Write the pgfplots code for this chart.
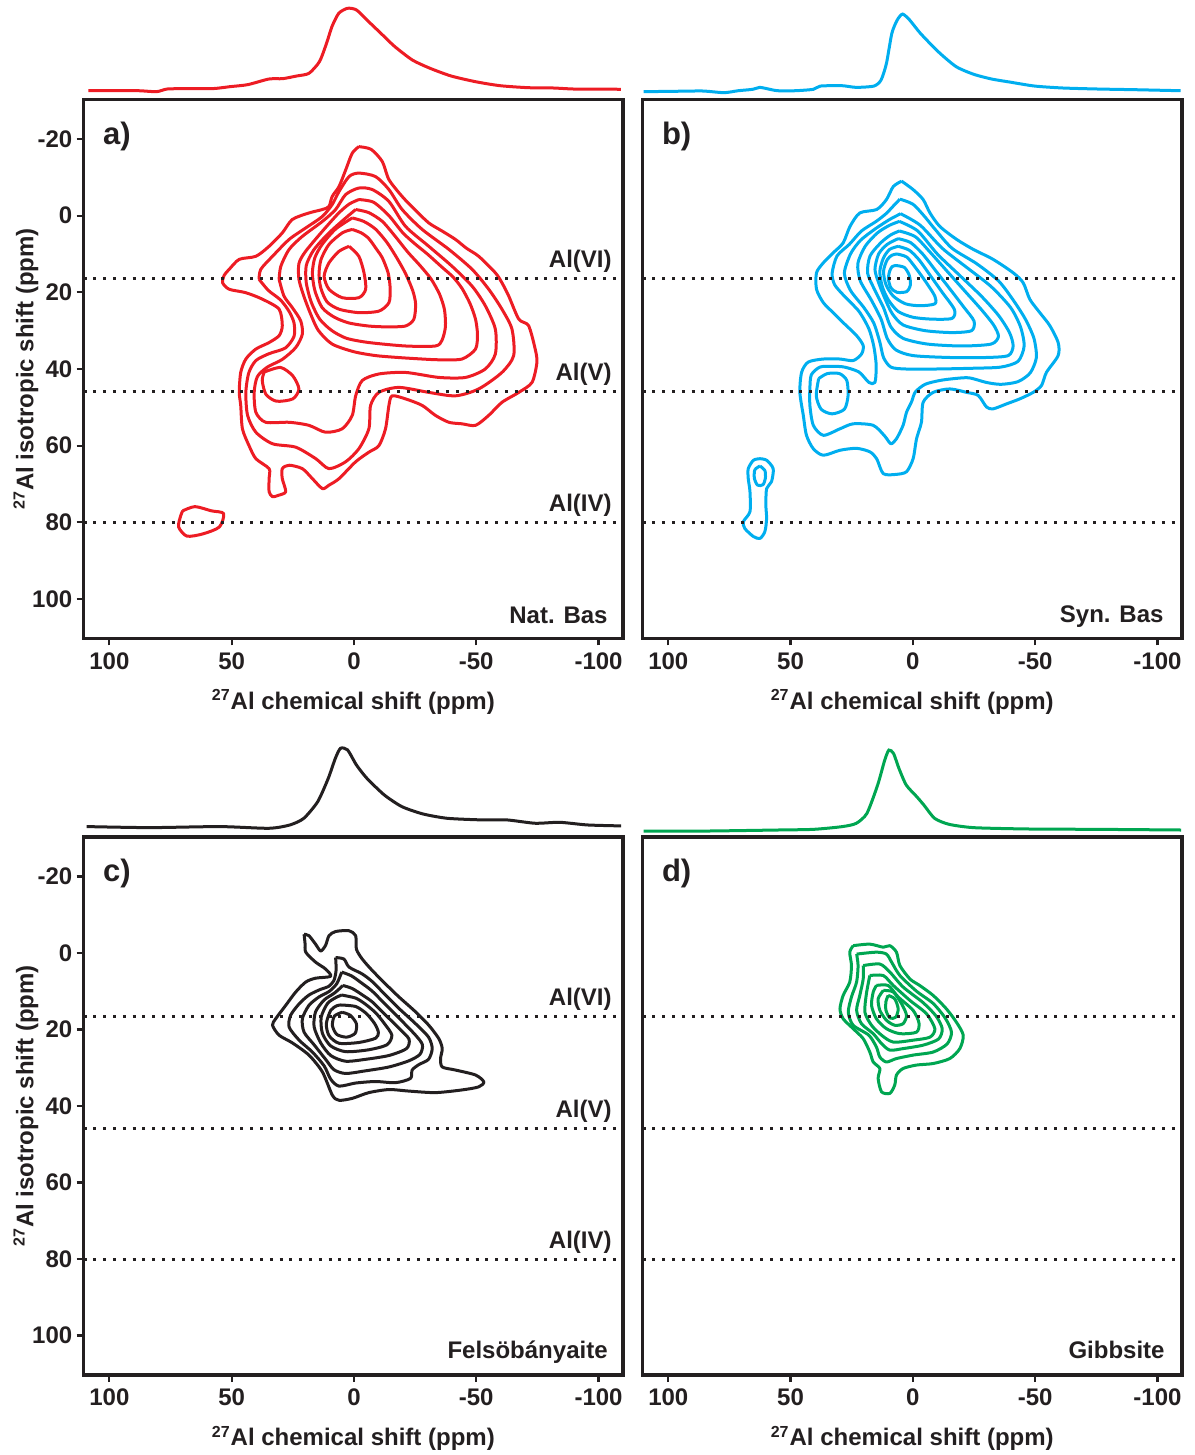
\documentclass[border=0pt]{standalone}
\usepackage{pgfplots}
\pgfplotsset{compat=1.18}
\usepackage{fontspec}
\setmainfont{Liberation Sans}
\definecolor{cred}{RGB}{237,28,36}
\definecolor{cblue}{RGB}{0,174,239}
\definecolor{cblack}{RGB}{35,31,32}
\definecolor{cgreen}{RGB}{0,166,81}
\definecolor{frame}{RGB}{35,31,32}
\tikzset{
  lab/.style={font=\bfseries\fontsize{12}{14}\selectfont, text=frame},
  plab/.style={anchor=north west, inner sep=0pt, font=\bfseries\fontsize{15.5}{15.5}\selectfont, text=frame},
}
\pgfplotsset{
  mainax/.style={
    scale only axis, anchor=south west,
    width=269.65pt,
    xmin=-110, xmax=110.5, x dir=reverse,
    ymin=-30.3, ymax=110.3, y dir=reverse,
    axis line style={line width=1.6pt, frame},
    tick style={line width=1.1pt, frame},
    major tick length=3.5pt,
    tick align=outside,
    xtick={100,50,0,-50,-100},
    xticklabels={100,50,0,-50,-100},
    xtick pos=bottom, ytick pos=left,
    ticklabel style={font=\bfseries\fontsize{12}{12}\selectfont, text=frame},
    yticklabel style={inner xsep=2pt},
    clip=true,
  },
  projax/.style={scale only axis, anchor=south west, width=269.65pt,
    xmin=-110, xmax=110.5, x dir=reverse, ymin=0, hide axis, clip=false},
  cont/.style={line width=1.5pt, smooth, tension=0.45, line join=round},
  dotl/.style={line width=1.5pt, dash pattern=on 1.5pt off 3.4pt, frame},
}
\begin{document}
\begin{tikzpicture}
\useasboundingbox (0,0) rectangle (597pt,727.5pt);

%================ PANEL A =================
\begin{axis}[projax, at={(41.85pt,681.65pt)}, height=41.7pt, ymax=87.7]
\addplot[cred, line width=1.5pt, smooth, tension=0.4] coordinates {
(108.6,1.0) (97.9,1.0) (87.9,1.0) (80.7,0) (76.4,2.8) (69.2,3.2) (57.8,3.2) (50.6,5.3) (43.4,7.4) (34.8,13.3) (29.1,13.7) (23.4,16.5) (18.4,19.3) (14.1,31.6) (11.2,50.9) (9.0,68.4) (6.2,82.5) (2.6,87.7) (-1,86) (-5.3,75.4) (-11,61.4) (-16.7,47.4) (-23.9,33.3) (-31.1,24.6) (-39.7,16.5) (-49.7,10.5) (-59.7,6.3) (-71.2,4.2) (-81.2,3.9) (-89.8,2.8) (-99.8,2.8) (-109.1,2.5)};
\end{axis}

\begin{axis}[mainax, name=A, at={(41.85pt,408.25pt)}, height=269.5pt,
  ytick={-20,0,20,40,60,80,100}, yticklabels={-20,0,20,40,60,80,100}]
% L1
\addplot[cont, cred] coordinates {(-2,-18) (-7,-17.3) (-11.6,-14.1) (-14.3,-9.4) (-19.7,-5) (-25,-1.5) (-30.6,1.9) (-36,4) (-41.5,6.2) (-46,8.5) (-51,10.6) (-57.8,14.9) (-60.5,17.5) (-63.3,21) (-67.4,27) (-71.4,28.7) (-74.1,34.8) (-74.8,38.3) (-72.8,43.5) (-67.4,46.1) (-60.5,48.7) (-55.1,52.1) (-49.7,54.7) (-44.2,54.3) (-38.8,53.9) (-33.3,52.1) (-27.9,49.5) (-21.1,47.8) (-15.6,47) (-14.3,49.5) (-12.9,55.6) (-10.2,60) (-6.1,61.7) (-0.7,64.2) (6.1,68.6) (10.2,70.3) (12.9,71.2) (17,68.6) (21.1,66) (26.5,65.1) (29.3,66) (29.3,68.6) (27.9,72) (30.6,72.9) (33.3,73.3) (34.7,72) (34.7,68.6) (34.7,66) (40.1,63.4) (42.9,60) (45.6,55.6) (46.3,49.5) (46.9,46.1) (46.3,40.9) (44.2,37.4) (40.1,34.8) (34.7,33.1) (30.6,31.3) (29.3,28.7) (30.6,24.4) (37.4,21.8) (44.2,20.1) (51,19.2) (53.7,17.5) (53,15.5) (51,14) (46.9,11.4) (40.1,10.6) (34.7,8) (29.3,4.5) (25.2,1) (18.4,-0.7) (12.9,-1.6) (10.2,-2.4) (8.9,-5) (6.1,-7.6) (3.4,-11.9) (0.7,-16.3) (-2,-18)};
% L2
\addplot[cont, cred] coordinates {(38.8,16.6) (35,19.5) (30,22) (26.5,25) (24.5,28) (24.5,31.5) (28,34.5) (34.7,36) (40.1,37.8) (43,41) (44.2,46.1) (43.5,52.1) (40.1,56.5) (33.3,59.5) (23.8,60.4) (15.6,63.4) (10.2,66) (3.4,64.2) (-2,60.8) (-6.1,55.6) (-6.8,49.5) (-10.2,46.1) (-18.4,44.8) (-30.6,46.1) (-41.5,47) (-51,45.2) (-60.5,40.9) (-65.3,36.5) (-64.6,29.6) (-60.5,24.4) (-55.1,19.2) (-48.3,14) (-38.8,8.8) (-27.9,3.6) (-19.7,-1.6) (-14.3,-6.8) (-8.8,-10.2) (-2,-11.1) (2,-10.2) (6.1,-6.3) (8.9,-2.9) (12.9,0.2) (19.7,3.2) (26.5,6.2) (33.3,10.6) (38.1,14) (38.8,16.6)};
% L3
\addplot[cont, cred] coordinates {(30.6,16.6) (28.6,21) (25.2,24) (21.8,27.4) (21.1,30.9) (23.8,34.4) (29.3,37.5) (35.4,39.5) (39.5,42) (40.8,46.1) (40.1,51.3) (36.1,53.9) (26.5,53.9) (18.4,54.7) (11.6,56.5) (4.8,55.6) (0.7,52.1) (-0.7,47) (-3.4,43) (-10.2,41.3) (-21.1,40.9) (-34.7,42.2) (-45.6,42.2) (-53.7,40) (-57.8,36.1) (-57.8,29.6) (-53.7,23.5) (-48.3,18.4) (-40.1,13.2) (-30.6,8) (-21.1,2.8) (-14.3,-3.7) (-7.5,-6.8) (-2,-7.2) (3.4,-5.5) (7.5,-1.6) (12.9,1.5) (21.1,5.4) (26.5,8.8) (29.9,13.2) (30.6,16.6)};
% L4
\addplot[cont, cred] coordinates {(-2,-4.2) (-8,-3.5) (-14.3,0) (-20,4.5) (-25.2,7.5) (-30,10) (-36.1,13.5) (-40.5,16) (-44.2,19) (-47.5,23) (-49.7,27) (-50.5,31) (-49.7,34.8) (-44.2,37.4) (-35,37.6) (-27.9,37.4) (-18,37) (-8.8,36.5) (0,35.5) (8.9,33.5) (14.5,30) (17.5,26) (20.5,21) (22.5,16.6) (22.5,12.5) (20,9.5) (13.5,4.5) (6.5,-0.5) (2,-3) (-2,-4.2)};
% L5
\addplot[cont, cred] coordinates {(-0.7,-1.6) (-6,-0.8) (-11.6,1.5) (-17,5.5) (-22,9.5) (-27,13) (-31.5,16.5) (-35,20.5) (-37,24.5) (-37.4,29) (-36,32.5) (-33.3,34) (-21.1,34) (-6.1,33.1) (3,32) (9,30) (14,27) (17.5,22.5) (19.5,17.5) (19.5,13) (16.5,9) (11,5) (5,1.5) (-0.7,-1.6)};
% L6
\addplot[cont, cred] coordinates {(0.7,0.6) (-4,1.5) (-8.8,3.5) (-13.5,7) (-17.5,11) (-21,15) (-24,19.5) (-25.2,23) (-24.5,27) (-21,28.8) (-13,29) (-6.1,28.8) (2,28) (8,26.5) (13,24) (16,19.5) (17,15) (16,11) (13,7.5) (7.5,3.5) (0.7,0.6)};
% L7
\addplot[cont, cred] coordinates {(0.7,3.6) (-3,4.5) (-6.1,6) (-9.5,9) (-11.6,11) (-14,15) (-14.8,19) (-14.3,22.7) (-10.2,24.9) (-2,25.3) (6.1,24.4) (11,22.5) (13.5,19) (14.3,15.5) (13.5,11.5) (10.2,7.5) (4.8,4.5) (0.7,3.6)};
% L8
\addplot[cont, cred] coordinates {(2,8) (-2,10.6) (-4.1,14.9) (-4.8,19.2) (-2,21.4) (4.8,21.4) (10.2,19.2) (12.2,15.8) (10.2,12.3) (6.1,9.3) (2,8)};
% island
\addplot[cont, cred] coordinates {(36.7,40.8) (30,39.6) (25,41.8) (22.5,45.2) (25,47.8) (31.7,48.4) (36,46.6) (37.5,43) (36.7,40.8)};
% Al(IV) spot
\addplot[cont, cred] coordinates {(70,77) (65,75.9) (58.3,77) (53.3,77.7) (55,81.2) (61.7,83) (68.3,83.6) (71.7,81.2) (70.8,78.2) (70,77)};
% dotted lines
\addplot[dotl] coordinates {(110.5,16.5) (-110,16.5)};
\addplot[dotl] coordinates {(110.5,46) (-110,46)};
\addplot[dotl] coordinates {(110.5,80) (-110,80)};
\node[lab, anchor=base east, inner sep=0pt, yshift=5.5pt] at (axis cs:-105.5,16.5) {Al(VI)};
\node[lab, anchor=base east, inner sep=0pt, yshift=5.5pt] at (axis cs:-105.5,46) {Al(V)};
\node[lab, anchor=base east, inner sep=0pt, yshift=5.5pt] at (axis cs:-105.5,80) {Al(IV)};
\end{axis}
\node[lab] at ([yshift=-31.75pt]A.south) {\textsuperscript{27}Al chemical shift (ppm)};
\node[lab, rotate=90] at ([xshift=-28.85pt]A.west) {\textsuperscript{27}Al isotropic shift (ppm)};
\node[plab] at ([xshift=9.5pt,yshift=-11pt]A.north west) {a)};
\node[lab, anchor=base east, inner sep=0pt] at ([xshift=-7.5pt,yshift=7.3pt]A.south east) {Nat. Bas};

%================ PANEL B =================
\begin{axis}[projax, at={(321.3pt,681.15pt)}, height=39.3pt, ymax=84.3]
\addplot[cblue, line width=1.5pt, smooth, tension=0.4] coordinates {
(110.1,1.1) (99.1,1.4) (86,1.8) (77.2,0) (71.4,2.1) (65.5,3.6) (62.6,5.7) (59.7,4.3) (55.3,2.1) (48,2.1) (40.7,3.6) (37.8,7.1) (29,7.5) (23.2,5.7) (15.9,7.1) (13,13.6) (10.8,31.4) (8.6,63.6) (6.4,77.9) (4.2,84.3) (1.3,77.9) (-3.1,63.6) (-10.4,43.9) (-17.7,27.9) (-25,19.6) (-32.3,14.6) (-39.6,11.4) (-49.8,7.1) (-61.5,5) (-76.1,3.9) (-90.7,3.2) (-109.5,2.1)};
\end{axis}

\begin{axis}[mainax, name=B, at={(321.3pt,408.25pt)}, height=269.5pt, ytick=\empty]
\addplot[cont, cblue] coordinates {(4.6,-9) (-0.1,-6.8) (-4.2,-4.2) (-7,-0.7) (-11,2.8) (-17.9,6.2) (-24.7,8.8) (-32.8,11.4) (-41,14.9) (-45.1,17.5) (-47.8,21.8) (-51.9,25.3) (-56,28.7) (-59.4,33.1) (-59.4,36.5) (-54.6,40.9) (-52.6,44.3) (-49.2,46.1) (-43.7,47.8) (-38.3,49.1) (-32.8,50.4) (-30.1,49.9) (-26.7,46.9) (-22,46.1) (-15.1,45.2) (-8.3,46.1) (-4.2,48.7) (-3.5,53.9) (-1.5,58.2) (-0.1,63.4) (2.6,66.8) (7,67.5) (12.1,67.3) (14.8,63.4) (17.6,61.6) (23,60.7) (29.8,61.2) (36.6,62.5) (40.7,60.8) (43.5,57.3) (44.8,52.1) (46.2,46.1) (45.5,40.9) (42.8,38.2) (36.6,37.4) (29.8,37.4) (24.4,37.8) (21,36.1) (20.3,33.9) (23,31.3) (28.5,27.9) (32.6,25.3) (36.6,22.7) (39.4,19.2) (39.4,14.9) (36.6,12.3) (32.6,9.7) (28.5,7.1) (25.7,2.8) (21.7,-0.7) (14.8,-1.6) (10.8,-4.2) (8,-7.6) (4.6,-9)};
\addplot[cont, cblue] coordinates {(5.3,-4.3) (0,-3) (-4.5,0) (-9,3.5) (-16,8.5) (-26,12.5) (-35,17) (-41,22) (-46,27) (-49.5,32) (-50.5,37) (-48,41) (-43,43.3) (-36,44) (-30,43.5) (-23,42.3) (-17,42.5) (-11,43) (-5,44) (-1,46) (0.5,48.5) (2.6,51.3) (4,54.7) (6.7,58.2) (9,59.5) (11.5,57.5) (16.2,54.7) (24.4,54.3) (29.8,55.6) (36.6,57.3) (40.7,54.7) (42.1,49.5) (42.1,45) (41.5,41.5) (38,39.5) (33,39.3) (28,39.5) (22,40.8) (18,43.5) (15.5,43.5) (15,39) (16,34) (18,29.5) (22,25) (28,21) (32,18) (33,15) (31,10.5) (26,7.5) (21,4) (15,1.5) (11,-0.5) (8,-2.5) (5.3,-4.3)};
\addplot[cont, cblue] coordinates {(5,-0.5) (-3,2.5) (-12,8.5) (-22,13.5) (-32,18.5) (-40,24) (-44,29) (-45.5,34) (-43,38) (-36,39.5) (-25,39.8) (-10,40) (3,40) (9,39.5) (12,37) (13.5,33) (16,28) (20,24) (25.5,19.5) (28,15) (25.5,10) (21.5,6.5) (15.5,3.5) (9.5,1) (5,-0.5)};
\addplot[cont, cblue] coordinates {(5.5,1.5) (-2,4) (-10,10) (-19,15.5) (-28,21) (-35,26) (-39.5,30.5) (-41,34) (-39,36.5) (-30,37) (-15,37) (0,36.5) (7,35) (10.5,32) (13,27) (17,22) (21.5,17) (22.5,12.5) (19.5,8) (14.5,4.5) (9.5,2.5) (5.5,1.5)};
\addplot[cont, cblue] coordinates {(5.5,4) (-1,5.5) (-7,9.5) (-14,14.5) (-21,19.5) (-28,24.5) (-33,28.5) (-35,31.5) (-32,33.5) (-20,34) (-6,33.5) (4,32) (9,29) (12,24) (15.5,19.5) (18.5,15) (17.5,10.5) (13,7) (9,5) (5.5,4)};
\addplot[cont, cblue] coordinates {(6,6) (1,7) (-4,10) (-9.5,14.5) (-15,19) (-21,24) (-25,27.5) (-24,30) (-16,30.5) (-5,30) (4,28.5) (8.5,25.5) (11.5,21.5) (14,17.5) (15.5,14) (14,10) (10.5,7.5) (6,6)};
\addplot[cont, cblue] coordinates {(6,8) (1.5,9) (-2.5,11.5) (-7,15.5) (-12,20) (-17,24.5) (-16,26.8) (-8,27) (0,26.5) (6,25) (10,22) (12.5,18.5) (13.5,14.5) (12,11) (9.5,8.8) (6,8)};
\addplot[cont, cblue] coordinates {(6.5,10) (2.5,10.8) (-1,13.5) (-5,17) (-9,21) (-9,23) (-3,23.5) (3,23) (8,21) (11,18) (12,14.5) (10.5,11.5) (8.5,10.3) (6.5,10)};
\addplot[cont, cblue] coordinates {(7,13) (3.5,13.5) (1.5,15.5) (1,18) (2.5,19.8) (6.5,20) (9,18.8) (10,16.5) (9.5,14.5) (8.5,13.3) (7,13)};
\addplot[cont, cblue] coordinates {(38.5,42.5) (35,41.2) (30,41.2) (27,43) (26.5,47) (28,50.5) (33,51.7) (37.5,50.5) (39.5,47) (38.5,42.5)};
\addplot[cont, cblue] coordinates {(62.5,63.4) (59.8,63.8) (57.1,66) (57.8,69.4) (59.8,71.2) (60.1,75.5) (59.8,79) (60.5,82.4) (62.5,84.2) (65.2,83.7) (68.7,81.6) (69.3,79.8) (66.6,77.2) (66.6,72) (67.3,68.6) (67.3,66) (65.2,63.8) (62.5,63.4)};
\addplot[cont, cblue] coordinates {(62.5,65.3) (60.5,66.5) (60.3,68.5) (61.3,70.2) (63.5,70.3) (64.8,68.5) (64.6,66.3) (62.5,65.3)};
\addplot[dotl] coordinates {(110.5,16.5) (-110,16.5)};
\addplot[dotl] coordinates {(110.5,46) (-110,46)};
\addplot[dotl] coordinates {(110.5,80) (-110,80)};
\end{axis}
\node[lab] at ([yshift=-31.75pt]B.south) {\textsuperscript{27}Al chemical shift (ppm)};
\node[plab] at ([xshift=9.5pt,yshift=-11pt]B.north west) {b)};
\node[lab, anchor=base east, inner sep=0pt] at ([xshift=-9pt,yshift=7.8pt]B.south east) {Syn. Bas};

%================ PANEL C =================
\begin{axis}[projax, at={(41.85pt,313.35pt)}, height=40pt, ymax=84.2]
\addplot[cblack, line width=1.5pt, smooth, tension=0.4] coordinates {
(109.3,1.8) (83.5,0.7) (54.9,1.8) (34.8,0) (26.2,3.5) (20.5,10.5) (14.8,28.1) (10.5,52.6) (7.6,73.7) (5.5,84.2) (2.6,82.5) (-1,66.7) (-5.3,52.6) (-12.4,35.1) (-19.6,22.8) (-28.2,15.1) (-38.2,10.5) (-52.6,8.8) (-62.6,8.8) (-74.1,5.3) (-84.1,6.3) (-95.5,3.5) (-109.2,2.5)};
\end{axis}

\begin{axis}[mainax, name=C, at={(41.85pt,40pt)}, height=269pt,
  ytick={-20,0,20,40,60,80,100}, yticklabels={-20,0,20,40,60,80,100}]
\addplot[cont, cblack] coordinates {(20.4,-4.9) (20,-2.5) (19.7,-0.2) (15.7,2.4) (11.6,4.2) (9.5,6.1) (15.7,6.6) (19.7,7.6) (23.8,10.2) (27.9,13.7) (32,17.2) (33.3,18.9) (30.6,21.5) (25.2,23.5) (18.4,26.7) (12.9,31.1) (8.8,37.2) (6.1,38.5) (0.7,38) (-6.1,36.5) (-14.3,35.7) (-22.4,36.1) (-33.3,36.5) (-44.2,35.8) (-51,35) (-53.1,33.7) (-49.7,31.9) (-41.5,30.6) (-36.1,29.8) (-35.4,27.6) (-36.1,25) (-34.7,22.4) (-30.6,18.9) (-25.2,15.4) (-18.4,11.5) (-12.9,8.1) (-7.5,4.6) (-3.4,1.6) (-1,-1) (-0.7,-4.5) (2,-5.8) (7.5,-5.6) (10.2,-4.5) (11.6,-2) (13.6,-0.5) (15.7,-2.3) (18.4,-4.5) (20.4,-4.9)};
\addplot[cont, cblack] coordinates {(7.5,1.2) (4.1,1.6) (2,3.7) (-3.4,5.5) (-7.5,7.5) (-12.9,11) (-18.4,14.5) (-25.2,18.5) (-30.5,22) (-32,25) (-30.5,27.8) (-26.5,29.2) (-23.8,30.6) (-23.1,32.8) (-17,33.9) (-8.8,33.6) (-0.7,34) (6.1,34.8) (9.5,33) (12.2,29.5) (17,25.9) (22.4,22.8) (26.5,19.4) (25.9,16.3) (22.4,13.3) (18.4,11) (13.6,9.5) (10.5,8.8) (8.2,7.2) (7.3,4.5) (7.5,1.2)};
\addplot[cont, cblack] coordinates {(5,5) (1,6) (-3,7.8) (-7.5,10) (-12.9,13.5) (-18.4,17) (-25.2,21.5) (-28,24) (-27,26.5) (-22.4,28.2) (-14.3,29.8) (-4.8,30.8) (3.4,31.5) (8.2,30.5) (11.6,27.8) (16.3,24) (20.4,20.7) (21.1,17.2) (18.4,13.7) (14.3,11.5) (10,10) (7,8) (5,5)};
\addplot[cont, cblack] coordinates {(4.5,8.5) (0.7,9.3) (-3.5,11) (-7.5,12.8) (-12.9,16.2) (-18.4,19.7) (-22.5,22.5) (-21.5,25) (-14.3,26.8) (-4.8,27.8) (3.4,28.3) (9.5,26.8) (13.6,23.5) (16.3,19.3) (15.7,15.4) (12.2,12.3) (8,10.5) (4.5,8.5)};
\addplot[cont, cblack] coordinates {(5,11) (-0.7,11.8) (-4.5,13.3) (-8.8,15.6) (-12.5,18.5) (-15.5,21.5) (-13.5,24) (-6.1,25.3) (3.4,25.8) (9.5,24.3) (12.9,21) (13.4,16.8) (10.8,13.2) (7.5,11.7) (5,11)};
\addplot[cont, cblack] coordinates {(5.4,13.6) (-0.7,14) (-5,15.8) (-8.5,18.5) (-10,20.8) (-8.8,22.3) (-2,23.4) (6.1,23.6) (10.2,21.6) (11.3,18.5) (9.5,15) (7,13.8) (5.4,13.6)};
\addplot[cont, cblack] coordinates {(4.8,15.5) (1.5,16.3) (-1,18.5) (-0.5,21) (3,22) (7,21.3) (8.8,19) (8,16.5) (4.8,15.5)};
\addplot[dotl] coordinates {(110.5,16.5) (-110,16.5)};
\addplot[dotl] coordinates {(110.5,46) (-110,46)};
\addplot[dotl] coordinates {(110.5,80) (-110,80)};
\node[lab, anchor=base east, inner sep=0pt, yshift=5.5pt] at (axis cs:-105.5,16.5) {Al(VI)};
\node[lab, anchor=base east, inner sep=0pt, yshift=5.5pt] at (axis cs:-105.5,46) {Al(V)};
\node[lab, anchor=base east, inner sep=0pt, yshift=5.5pt] at (axis cs:-105.5,80) {Al(IV)};
\end{axis}
\node[lab] at ([yshift=-31.75pt]C.south) {\textsuperscript{27}Al chemical shift (ppm)};
\node[lab, rotate=90] at ([xshift=-28.85pt]C.west) {\textsuperscript{27}Al isotropic shift (ppm)};
\node[plab] at ([xshift=9.5pt,yshift=-11pt]C.north west) {c)};
\node[lab, anchor=base east, inner sep=0pt] at ([xshift=-7.5pt,yshift=8pt]C.south east) {Felsöbányaite};

%================ PANEL D =================
\begin{axis}[projax, at={(321.3pt,311.65pt)}, height=40.8pt, ymax=87.5]
\addplot[cgreen, line width=1.5pt, smooth, tension=0.4] coordinates {
(110.1,0.7) (84.5,0.7) (55.3,1.8) (40.7,2.5) (29,5.4) (23.2,8.9) (18.8,19.6) (14.4,50) (11.5,76.8) (9.8,87.5) (7.9,83.9) (5.7,67.9) (2.7,50) (-1.6,37.5) (-4.5,28.6) (-8.9,14.3) (-14.8,7.9) (-25,4.3) (-46.9,2.9) (-76.1,2.5) (-109.7,1.8)};
\end{axis}

\begin{axis}[mainax, name=D, at={(321.3pt,40pt)}, height=269pt, ytick=\empty]
\addplot[cont, cgreen] coordinates {(24.4,-1.9) (17.6,-2.3) (12.1,-1.5) (9.4,-1.9) (6.7,-0.2) (5.3,3.3) (1.2,6.8) (-2.8,8.5) (-8.3,11.1) (-13.7,14.6) (-17.8,18.1) (-20.6,21.5) (-19.2,25) (-15.1,27.6) (-8.3,28.9) (-1.5,29.3) (4,30.2) (6.7,31.9) (7.4,34.5) (9.4,36.7) (12.8,36.3) (14.2,32.8) (13.5,30.2) (16.2,28.5) (17.6,25.9) (20.3,22.4) (24.4,19.8) (28.5,17.2) (29.8,14.6) (28.5,11.1) (25.8,7.6) (25.1,3.3) (25.8,-0.2) (24.4,-1.9)};
\addplot[cont, cgreen] coordinates {(23,0.3) (14.9,-0.2) (10.8,0.3) (8.7,2.4) (5.3,5.9) (-1.5,10) (-8.3,13.2) (-13.2,17) (-15.8,20.7) (-14,23.8) (-8.3,25.9) (-0.1,26.7) (6.7,27.6) (10.8,28.5) (13.5,27.2) (14.9,24.6) (18,21.5) (24.4,18.9) (26.4,15.5) (25.1,11.5) (23,7.6) (22.4,3.3) (23,0.3)};
\addplot[cont, cgreen] coordinates {(20.3,3.3) (13.5,2.9) (9.4,5) (4,8.9) (-4.2,13) (-9.5,16.5) (-12,19.8) (-10.5,22.5) (-4.2,24.1) (4,25) (9.4,25.4) (12.8,23.7) (16.2,21.1) (21,18.5) (23,15) (21.7,11.1) (20.3,6.8) (20.3,3.3)};
\addplot[cont, cgreen] coordinates {(17.6,5.9) (12.1,5.9) (8,8.5) (1.2,12.4) (-5.6,15.9) (-9,19.8) (-7,22) (-0.1,22.8) (8,23.3) (12.8,21.5) (16.9,18.9) (19.6,15.5) (19,10.7) (17.6,5.9)};
\addplot[cont, cgreen] coordinates {(14.9,8.5) (10.1,8.5) (6,11.5) (-0.1,15) (-2.5,18.3) (-1.5,20.7) (5.3,21.1) (10.8,19.8) (14.9,17.2) (16.9,13.7) (16.2,10.2) (14.9,8.5)};
\addplot[cont, cgreen] coordinates {(12.1,9.8) (8,10.2) (4.6,13.3) (2.6,16.3) (4,18.5) (7.4,18.9) (10.8,17.6) (13.5,15) (14.2,12) (12.1,9.8)};
\addplot[cont, cgreen] coordinates {(10.1,11.1) (7.4,12) (6,14.6) (7,16.8) (9.4,17) (11,15) (11,12.7) (10.1,11.1)};
\addplot[dotl] coordinates {(110.5,16.5) (-110,16.5)};
\addplot[dotl] coordinates {(110.5,46) (-110,46)};
\addplot[dotl] coordinates {(110.5,80) (-110,80)};
\end{axis}
\node[lab] at ([yshift=-31.75pt]D.south) {\textsuperscript{27}Al chemical shift (ppm)};
\node[plab] at ([xshift=9.5pt,yshift=-11pt]D.north west) {d)};
\node[lab, anchor=base east, inner sep=0pt] at ([xshift=-8.5pt,yshift=8pt]D.south east) {Gibbsite};
\end{tikzpicture}
\end{document}
